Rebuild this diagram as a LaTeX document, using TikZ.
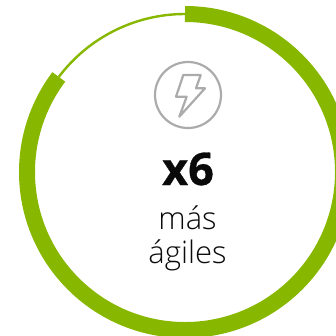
\documentclass[tikz,border=0pt]{standalone}
\usepackage{fontspec}
\setmainfont{Open Sans}
\newfontfamily\oslight{Open Sans Light}
\newfontfamily\osheavy[FakeBold=0.7]{Open Sans Bold}
\definecolor{leaf}{HTML}{88B700}
\definecolor{iconGrey}{HTML}{ABABAB}
\definecolor{ink}{HTML}{0A0A0A}
\tikzset{
  thickring/.style={draw=leaf,line width=16pt,line cap=butt},
  thinring/.style={draw=leaf,line width=2.4pt,line cap=butt},
  iconline/.style={draw=iconGrey,line width=2.2pt,line join=round},
  label/.style={anchor=base,inner sep=0pt,text=ink}
}
\begin{document}
\begin{tikzpicture}[x=1pt,y=-1pt]
\useasboundingbox (0,0) rectangle (336,335);
\clip (0,0) rectangle (336,335);
\coordinate (ringtop) at (185,14);
\draw[thinring] (ringtop) arc[start angle=-90,end angle=-143,radius=158];
\draw[thickring] (ringtop) arc[start angle=-90,delta angle=307,radius=158];
\node[iconline,circle,minimum size=66pt,inner sep=0pt] (icon) at (188,95) {};
\draw[iconline] (183.3,75) -- (200.7,75) -- (196,88.3) -- (205,88.3) -- (179.3,116.7) -- (186.7,96.7) -- (176,96.7) -- cycle;
\node[label,font=\fontsize{45}{45}\selectfont\osheavy] (big) at (188,185) {x6};
\node[label,font=\fontsize{31}{31}\selectfont\oslight] (mas) at (187.5,229) {más};
\node[label,font=\fontsize{31}{31}\selectfont\oslight] (agiles) at (187.5,263) {ágiles};
\end{tikzpicture}
\end{document}
